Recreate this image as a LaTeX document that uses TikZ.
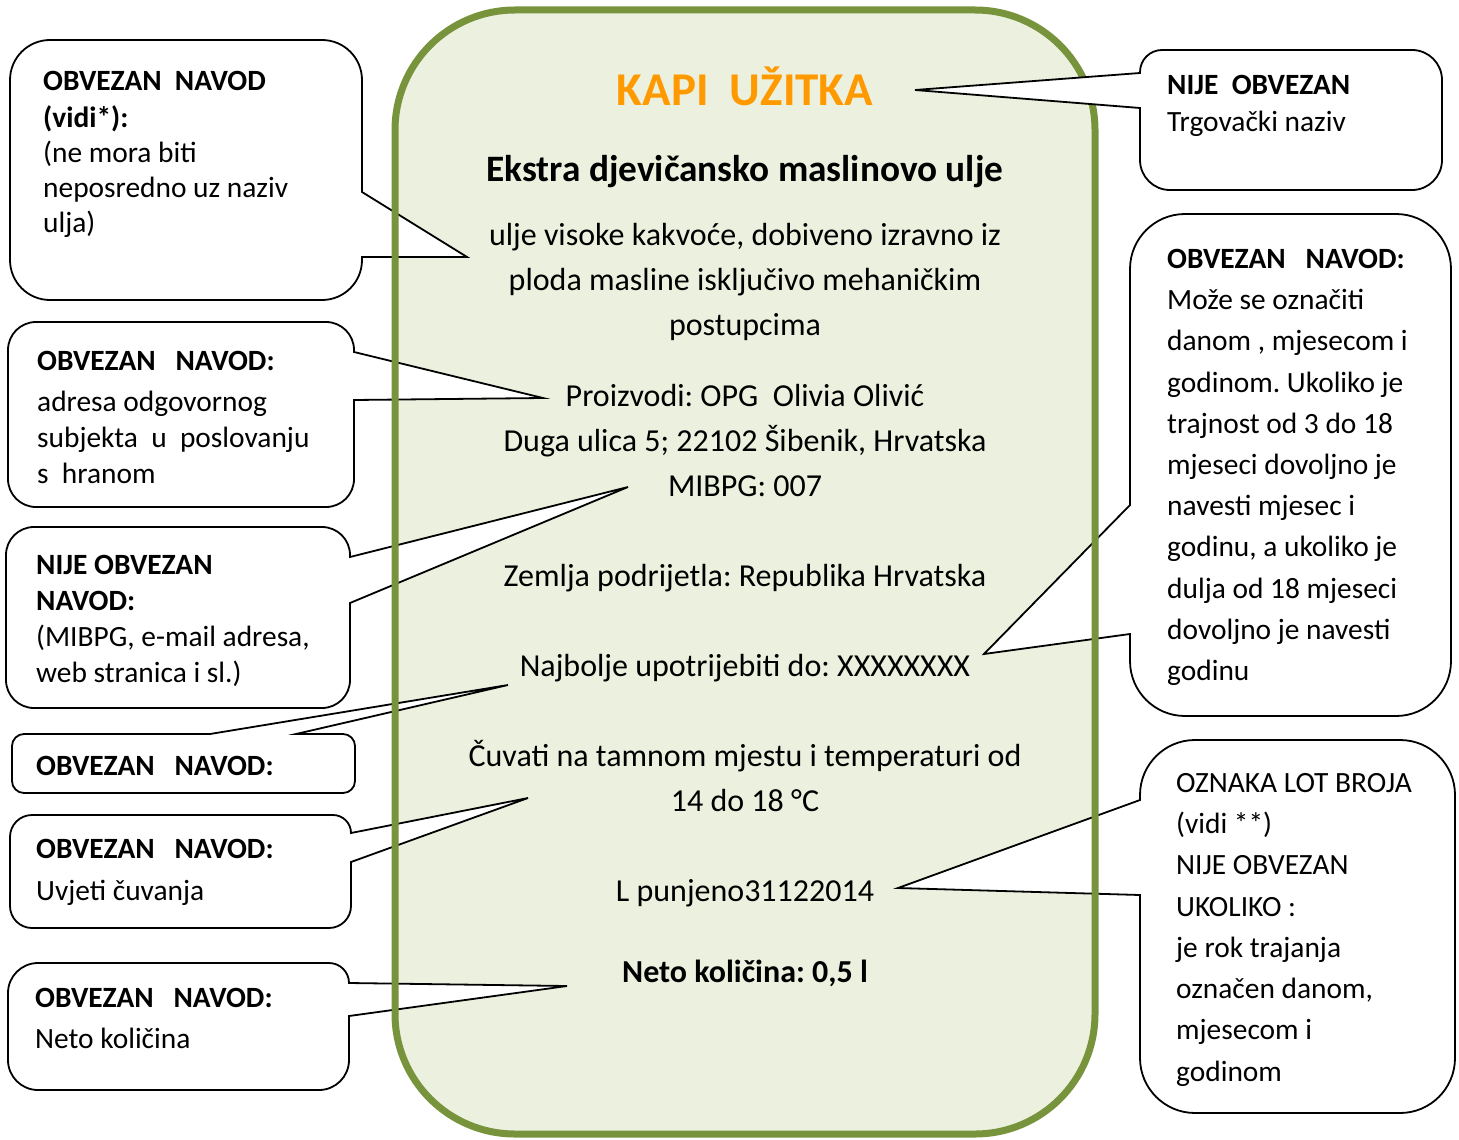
\documentclass[tikz,border=0pt]{standalone}
\usepackage{fontspec}
\setmainfont{Carlito}
\frenchspacing
\definecolor{lgreen}{HTML}{EBF1DE}
\definecolor{dgreen}{HTML}{77933C}
\definecolor{korange}{HTML}{FF9900}
\begin{document}
\begin{tikzpicture}[x=1pt,y=-1pt,
  callout/.style={draw=black, fill=white, line width=1.8pt, line join=miter},
  txt/.style={anchor=base west, inner sep=0pt, font=\fontsize{29.4}{36}\selectfont},
  txtb/.style={anchor=base west, inner sep=0pt, font=\fontsize{29.4}{36}\selectfont\bfseries},
  mtxt/.style={anchor=base, inner sep=0pt, font=\fontsize{32}{40}\selectfont},
  mtxtb/.style={anchor=base, inner sep=0pt, font=\fontsize{32}{40}\selectfont\bfseries},
  title/.style={anchor=base, inner sep=0pt, font=\fontsize{37.3}{45}\selectfont\bfseries},
  brand/.style={anchor=base, inner sep=0pt, text=korange, font=\fontsize{47}{56}\selectfont\bfseries},
  label/.style={fill=lgreen, rounded corners=120},
  labelborder/.style={draw=dgreen, line width=7pt, rounded corners=120}
]
\useasboundingbox (0,0) rectangle (1459,1140);

% label background
\fill[label] (395,10) rectangle (1095,1134);

% callouts under the border
\draw[callout] (186,40) [rounded corners=40] -- (362,40) [sharp corners] -- (362,192) -- (467,257) -- (362,257) [rounded corners=40] -- (362,300) -- (10,300) -- (10,40) -- cycle;
\draw[callout] (180,322) [rounded corners=28] -- (354,322) [sharp corners] -- (354,352) -- (543,398) -- (354,400) [rounded corners=28] -- (354,507) -- (8,507) -- (8,322) -- cycle;
\draw[callout] (180,527) [rounded corners=28] -- (350,527) [sharp corners] -- (350,557) -- (628,487) -- (350,603) [rounded corners=28] -- (350,708) -- (6,708) -- (6,527) -- cycle;
\draw[callout] (12,763) [rounded corners=12] -- (12,734) [sharp corners] -- (210,734) -- (508,685) -- (296,734) [rounded corners=12] -- (355,734) -- (355,793) -- (12,793) -- cycle;
\draw[callout] (180,815) [rounded corners=18] -- (351,815) [sharp corners] -- (351,833) -- (528,798) -- (351,862) [rounded corners=22] -- (351,928) -- (10,928) -- (10,815) -- cycle;
\draw[callout] (180,963) [rounded corners=20] -- (349,963) [sharp corners] -- (349,983) -- (567,986) -- (349,1016) [rounded corners=30] -- (349,1090) -- (8,1090) -- (8,963) -- cycle;
\draw[callout] (1290,214) [rounded corners=55] -- (1451,214) -- (1451,716) -- (1130,716) [sharp corners] -- (1130,634) -- (984,654) -- (1130,505) [rounded corners=55] -- (1130,214) -- cycle;
\draw[callout] (1298,740) [rounded corners=55] -- (1455,740) -- (1455,1113) -- (1140,1113) [sharp corners] -- (1140,895) -- (898,888) -- (1140,800) [rounded corners=55] -- (1140,740) -- cycle;

% label border
\draw[labelborder] (395,10) rectangle (1095,1134);

% callout over the border
\draw[callout] (1290,50) [rounded corners=30] -- (1442,50) -- (1442,190) -- (1140,190) [sharp corners] -- (1140,108) -- (915,90) -- (1140,73) [rounded corners=22] -- (1140,50) -- cycle;

% label texts
\node[brand] (kapi) at (745,105) {KAPI\ \ UŽITKA};
\node[title] (naziv) at (745,181) {Ekstra djevičansko maslinovo ulje};
\node[mtxt] (opis1) at (745,245) {ulje visoke kakvoće, dobiveno izravno iz};
\node[mtxt] (opis2) at (745,290) {ploda masline isključivo mehaničkim};
\node[mtxt] (opis3) at (745,335) {postupcima};
\node[mtxt] (proiz) at (745,406) {Proizvodi: OPG\ \ Olivia Olivić};
\node[mtxt] (adresa) at (745,451) {Duga ulica 5; 22102 Šibenik, Hrvatska};
\node[mtxt] (mibpg) at (745,496) {MIBPG: 007};
\node[mtxt] (zemlja) at (745,586) {Zemlja podrijetla: Republika Hrvatska};
\node[mtxt] (rok) at (745,676) {Najbolje upotrijebiti do: XXXXXXXX};
\node[mtxt] (cuv1) at (745,766) {Čuvati na tamnom mjestu i temperaturi od};
\node[mtxt] (cuv2) at (745,811) {14 do 18 °C};
\node[mtxt] (lot) at (745,901) {L punjeno31122014};
\node[mtxtb] (neto) at (745,982) {Neto količina: 0,5 l};

% box 1
\node[txtb] (a1) at (43,91) {OBVEZAN\ \ NAVOD};
\node[txtb] (a2) at (43,127) {(vidi*):};
\node[txt] (a3) at (43,162) {(ne mora biti};
\node[txt] (a4) at (43,197) {neposredno uz naziv};
\node[txt] (a5) at (43,232) {ulja)};
% box 2
\node[txtb] (b1) at (37,370) {OBVEZAN\ \ \ NAVOD:};
\node[txt] (b2) at (37,411) {adresa odgovornog};
\node[txt] (b3) at (37,447) {subjekta\ \ u\ \ poslovanju};
\node[txt] (b4) at (37,483) {s\ \ hranom};
% box 3
\node[txtb] (c1) at (36,574) {NIJE OBVEZAN};
\node[txtb] (c2) at (36,610) {NAVOD:};
\node[txt] (c3) at (36,646) {(MIBPG, e-mail adresa,};
\node[txt] (c4) at (36,682) {web stranica i sl.)};
% box 4
\node[txtb] (d1) at (36,775) {OBVEZAN\ \ \ NAVOD:};
% box 5
\node[txtb] (e1) at (36,858) {OBVEZAN\ \ \ NAVOD:};
\node[txt] (e2) at (36,900) {Uvjeti čuvanja};
% box 6
\node[txtb] (f1) at (35,1007) {OBVEZAN\ \ \ NAVOD:};
\node[txt] (f2) at (35,1048) {Neto količina};
% box 7
\node[txtb] (g1) at (1167,95) {NIJE\ \ OBVEZAN};
\node[txt] (g2) at (1167,131) {Trgovački naziv};
% box 8
\node[txtb] (h1) at (1167,268) {OBVEZAN\ \ \ NAVOD:};
\node[txt] (h2) at (1167,309) {Može se označiti};
\node[txt] (h3) at (1167,350) {danom , mjesecom i};
\node[txt] (h4) at (1167,392) {godinom. Ukoliko je};
\node[txt] (h5) at (1167,433) {trajnost od 3 do 18};
\node[txt] (h6) at (1167,474) {mjeseci dovoljno je};
\node[txt] (h7) at (1167,515) {navesti mjesec i};
\node[txt] (h8) at (1167,556) {godinu, a ukoliko je};
\node[txt] (h9) at (1167,598) {dulja od 18 mjeseci};
\node[txt] (h10) at (1167,639) {dovoljno je navesti};
\node[txt] (h11) at (1167,680) {godinu};
% box 9
\node[txt] (k1) at (1176,792) {OZNAKA LOT BROJA};
\node[txt] (k2) at (1176,833) {(vidi **)};
\node[txt] (k3) at (1176,874) {NIJE OBVEZAN};
\node[txt] (k4) at (1176,916) {UKOLIKO :};
\node[txt] (k5) at (1176,957) {je rok trajanja};
\node[txt] (k6) at (1176,998) {označen danom,};
\node[txt] (k7) at (1176,1039) {mjesecom i};
\node[txt] (k8) at (1176,1081) {godinom};
\end{tikzpicture}
\end{document}
